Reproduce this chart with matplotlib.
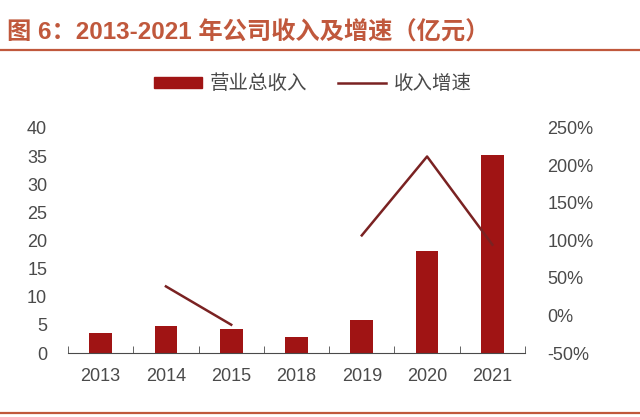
import numpy as np
import matplotlib
matplotlib.use("Agg")
import matplotlib.pyplot as plt
from matplotlib.patches import Patch
from matplotlib.lines import Line2D
from matplotlib.ticker import FuncFormatter

plt.rcParams['font.family'] = ['Liberation Sans', 'Noto Sans CJK SC', 'DejaVu Sans']

years = ['2013', '2014', '2015', '2018', '2019', '2020', '2021']
revenue = [3.55, 4.85, 4.2, 2.9, 5.87, 18.2, 35.2]
growth = [np.nan, 38.8, -12.3, np.nan, 106.8, 212.0, 94.4]

title_color = '#C0583C'
bar_color = '#A01414'
line_color = '#7A2222'
text_color = '#4a4a4a'

fig = plt.figure(figsize=(6.4, 4.17), dpi=100)

# title and rules
fig.text(7/640, 1 - 33/417, '图 6：2013-2021 年公司收入及增速（亿元）',
         fontsize=17.5, fontweight='bold', color=title_color, va='center', ha='left')
fig.add_artist(Line2D([0, 1], [1 - 50/417, 1 - 50/417], color=title_color, lw=1.6))
fig.add_artist(Line2D([0, 1], [1 - 413/417, 1 - 413/417], color=title_color, lw=1.6))

ax = fig.add_axes([68/640, 1 - 353/417, (525 - 68)/640, (353 - 128)/417])
x = np.arange(len(years))
ax.bar(x, revenue, width=0.35, color=bar_color, zorder=2)
ax.set_xlim(-0.5, len(years) - 0.5)
ax.set_ylim(0, 40)
ax.set_yticks(range(0, 41, 5))
ax.set_xticks(x)
ax.set_xticklabels(years)
ax.set_xticks(np.arange(-0.5, len(years), 1), minor=True)
ax.tick_params(axis='x', which='major', length=0, pad=11, labelsize=13, labelcolor=text_color)
ax.tick_params(axis='x', which='minor', direction='in', length=5, color=text_color)
ax.tick_params(axis='y', length=0, pad=15, labelsize=13, labelcolor=text_color)
for s in ['left', 'right', 'top']:
    ax.spines[s].set_visible(False)
ax.spines['bottom'].set_color(text_color)

ax2 = ax.twinx()
ax2.plot(x, growth, color=line_color, lw=1.8, zorder=3)
ax2.set_ylim(-50, 250)
ax2.set_yticks(range(-50, 251, 50))
ax2.yaxis.set_major_formatter(FuncFormatter(lambda v, p: f'{int(v)}%'))
ax2.tick_params(axis='y', length=0, pad=16, labelsize=13, labelcolor=text_color)
for s in ['left', 'right', 'top', 'bottom']:
    ax2.spines[s].set_visible(False)

handles = [Patch(color=bar_color), Line2D([], [], color=line_color, lw=1.8)]
fig.legend(handles, ['营业总收入', '收入增速'], ncol=2, frameon=False,
           loc='center', bbox_to_anchor=(313/640, 1 - 84/417), fontsize=14,
           labelcolor=text_color, handlelength=2.45, handleheight=0.55,
           columnspacing=1.6, handletextpad=0.4)

plt.savefig('out.png', dpi=100)
